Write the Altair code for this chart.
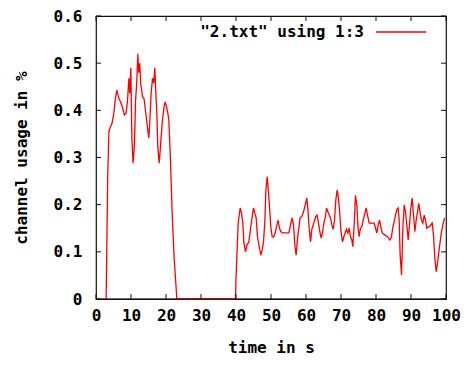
import altair as alt
import pandas as pd

# ---- data ----
time_s = [
    2.9, 3.05, 3.35, 3.7, 4.15, 4.6, 5.1, 5.55, 5.95, 6.5, 7.0, 7.5, 8.1, 8.6, 9.0, 9.4,
    9.65, 9.95, 10.25, 10.6, 11.0, 11.3, 11.65, 11.95, 12.2, 12.5, 12.8, 13.3, 13.75,
    14.05, 14.45, 14.8, 15.1, 15.4, 15.75, 16.15, 16.5, 16.8, 17.1, 17.4, 17.65, 18.05,
    18.35, 18.65, 19.0, 19.4, 19.75, 20.15, 20.45, 20.8, 21.2, 21.75, 22.3, 22.8, 23.1,
    39.85, 39.95, 40.3, 40.62, 41.19, 41.57, 41.95, 42.24, 42.71, 43.1, 43.67, 44.05,
    44.43, 45.0, 45.38, 45.76, 46.14, 46.62, 47.1, 47.48, 47.86, 48.24, 48.52, 48.9,
    49.19, 49.57, 49.95, 50.33, 50.81, 51.29, 51.67, 52.05, 52.43, 52.81, 53.19, 54.14,
    55.1, 55.57, 56.05, 56.43, 56.81, 57.19, 57.6, 57.95, 58.3, 58.8, 59.29, 59.76,
    60.24, 60.52, 60.9, 61.29, 61.67, 62.05, 62.43, 62.81, 63.19, 63.57, 63.95, 64.33,
    64.71, 65.1, 65.48, 65.86, 66.24, 66.62, 67.0, 67.38, 67.76, 68.14, 68.52, 68.9,
    69.29, 69.67, 70.05, 70.43, 70.81, 71.19, 71.57, 71.95, 72.33, 72.71, 73.1, 73.38,
    73.76, 74.14, 74.52, 74.81, 75.19, 75.57, 75.95, 76.33, 76.71, 77.19, 77.57, 78.05,
    78.8, 79.48, 79.86, 80.24, 80.62, 81.0, 81.38, 81.76, 82.52, 83.29, 83.95, 84.43,
    84.81, 85.19, 85.57, 85.95, 86.33, 86.62, 86.9, 87.29, 87.67, 88.05, 88.43, 88.81,
    89.19, 89.57, 89.95, 90.33, 90.71, 91.1, 91.48, 91.86, 92.24, 92.62, 93.0, 93.38,
    93.76, 94.14, 94.52, 94.9, 95.29, 95.67, 96.05, 96.43, 96.81, 97.19, 97.57, 97.95,
    98.33, 98.71, 99.1, 99.6,
]
usage = [
    0.0, 0.09, 0.263, 0.355, 0.365, 0.373, 0.394, 0.426, 0.443, 0.426, 0.418, 0.408,
    0.39, 0.394, 0.42, 0.468, 0.436, 0.49, 0.341, 0.288, 0.33, 0.42, 0.46, 0.52, 0.48,
    0.5, 0.455, 0.429, 0.424, 0.405, 0.38, 0.358, 0.341, 0.38, 0.436, 0.468, 0.458, 0.49,
    0.436, 0.39, 0.323, 0.288, 0.316, 0.348, 0.38, 0.405, 0.418, 0.408, 0.397, 0.38,
    0.31, 0.185, 0.09, 0.034, 0.0,
    0.0, 0.033, 0.1, 0.161, 0.193, 0.182, 0.161, 0.121, 0.1, 0.114, 0.121, 0.143,
    0.164, 0.193, 0.182, 0.172, 0.132, 0.111, 0.093, 0.104, 0.121, 0.164, 0.228, 0.259,
    0.235, 0.196, 0.153, 0.132, 0.132, 0.143, 0.157, 0.167, 0.15, 0.143, 0.14, 0.14,
    0.14, 0.157, 0.172, 0.157, 0.114, 0.093, 0.13, 0.15, 0.172, 0.175, 0.185, 0.199,
    0.214, 0.193, 0.15, 0.121, 0.148, 0.157, 0.167, 0.175, 0.178, 0.161, 0.143, 0.129,
    0.14, 0.161, 0.172, 0.193, 0.185, 0.178, 0.172, 0.157, 0.148, 0.167, 0.21, 0.231,
    0.214, 0.178, 0.14, 0.121, 0.132, 0.14, 0.148, 0.14, 0.15, 0.132, 0.125, 0.111,
    0.157, 0.22, 0.199, 0.157, 0.132, 0.15, 0.153, 0.167, 0.178, 0.193, 0.178, 0.161,
    0.161, 0.161, 0.15, 0.14, 0.157, 0.167, 0.153, 0.14, 0.136, 0.132, 0.125, 0.132,
    0.153, 0.164, 0.178, 0.189, 0.193, 0.167, 0.093, 0.051, 0.15, 0.199, 0.185, 0.157,
    0.125, 0.157, 0.193, 0.214, 0.178, 0.143, 0.167, 0.185, 0.203, 0.182, 0.167, 0.161,
    0.178, 0.167, 0.15, 0.153, 0.153, 0.157, 0.161, 0.136, 0.087, 0.058, 0.076, 0.1,
    0.121, 0.143, 0.157, 0.172,
]
series_name = '"2.txt" using 1:3'
x_ticks = [0, 10, 20, 30, 40, 50, 60, 70, 80, 90, 100]
y_ticks = [0, 0.1, 0.2, 0.3, 0.4, 0.5, 0.6]

df = pd.DataFrame({"time": time_s, "usage": usage, "series": series_name})
key_df = pd.DataFrame({"series": [series_name]})
xt_df = pd.DataFrame({"time": x_ticks})
yt_df = pd.DataFrame({"usage": y_ticks})

W, H = 350, 283
TICK = 5
FONT = "DejaVu Sans Mono"
FS = 16
RED = "#ff0000"
INK = "#111111"

def xs():
    return alt.Scale(domain=[0, 100], nice=False, zero=False)

def ys():
    return alt.Scale(domain=[0, 0.6], nice=False, zero=False)

lab = dict(labelFont=FONT, labelFontSize=FS, labelFontWeight="bold", labelColor="black")
ttl = dict(titleFont=FONT, titleFontSize=FS, titleFontWeight="bold", titleColor="black")

xa = alt.Axis(values=x_ticks, domain=False, ticks=False, grid=False, labelPadding=8,
              labelFlush=False, labelOverlap=False, title="time in s", titlePadding=16,
              **lab, **ttl)
ya = alt.Axis(values=y_ticks, domain=False, ticks=False, grid=False, labelPadding=14,
              labelOverlap=False,
              labelExpr="datum.value == 0 ? '0' : format(datum.value, '.1f')",
              title="channel usage in %", titlePadding=24, **lab, **ttl)

line = alt.Chart(df).mark_line(strokeWidth=1.3, color=RED).encode(
    x=alt.X("time:Q", scale=xs(), axis=xa),
    y=alt.Y("usage:Q", scale=ys(), axis=ya),
)

# inward tick marks on all four sides, placed through the scales
def xticks(y0, y1):
    return alt.Chart(xt_df).mark_rule(color=INK, strokeWidth=1).encode(
        x=alt.X("time:Q", scale=xs(), axis=None), y=alt.value(y0), y2=alt.value(y1))

def yticks(x0, x1):
    return alt.Chart(yt_df).mark_rule(color=INK, strokeWidth=1).encode(
        y=alt.Y("usage:Q", scale=ys(), axis=None), x=alt.value(x0), x2=alt.value(x1))

ticks = [xticks(H - TICK, H), xticks(0, TICK), yticks(0, TICK), yticks(W - TICK, W)]

# bottom border redrawn above the zero-valued stretch of the line
base_rule = alt.Chart(yt_df).transform_filter("datum.usage == 0").mark_rule(
    color=INK, strokeWidth=1.2
).encode(y=alt.Y("usage:Q", scale=ys(), axis=None))

key_text = alt.Chart(key_df).mark_text(
    align="right", baseline="middle", font=FONT, fontSize=FS, fontWeight="bold",
    color="black",
).encode(x=alt.value(268), y=alt.value(16), text="series:N")
key_line = alt.Chart(key_df).mark_rule(color=RED, strokeWidth=1.3).encode(
    x=alt.value(280), x2=alt.value(330), y=alt.value(16)
)

chart = alt.layer(line, *ticks, base_rule, key_text, key_line).resolve_scale(
    x="independent", y="independent"
).properties(
    width=W, height=H,
    autosize=alt.AutoSizeParams(type="none"),
    padding={"left": 88, "top": 8, "right": 18, "bottom": 60},
    background="white",
).configure_view(stroke=INK, strokeWidth=1.2)

chart.save("out.html", embed_options={"renderer": "svg", "actions": False})
